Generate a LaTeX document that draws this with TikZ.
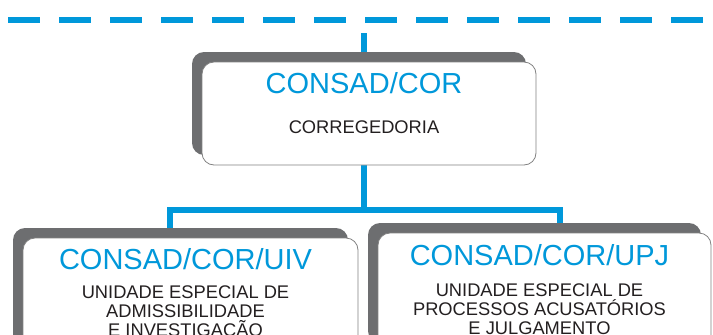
\documentclass[tikz,border=0pt]{standalone}
\usepackage{fontspec}
\setmainfont{Liberation Sans}
\usepackage{xcolor}
\usetikzlibrary{shadows,backgrounds}
\definecolor{corblue}{RGB}{0,152,218}
\definecolor{shadegray}{RGB}{109,110,112}
\definecolor{edgegray}{RGB}{130,130,130}
\definecolor{textgray}{RGB}{35,31,32}
\begin{document}
\begin{tikzpicture}[x=1pt, y=-1pt,
  unit/.style={draw=edgegray, line width=0.8pt, fill=white, rounded corners=12pt,
    copy shadow={shadow xshift=-10pt, shadow yshift=10pt, fill=shadegray, draw=none},
    inner sep=0pt, outer sep=0pt},
  title/.style={anchor=base, text=corblue, font=\fontsize{29}{29}\selectfont},
  desc/.style={anchor=base, text=textgray, align=center, font=\fontsize{18.3}{19}\selectfont},
  link/.style={draw=corblue, line width=6pt}]
\useasboundingbox (0,0) rectangle (713,335);
\clip (0,0) rectangle (713,335);

% boxes
\node[unit, minimum width=334pt, minimum height=103pt] (cor) at (369,113.5) {};
\node[unit, minimum width=335pt, minimum height=120pt] (uiv) at (190.5,298) {};
\node[unit, minimum width=333pt, minimum height=120pt] (upj) at (544.5,293) {};

% base is the last line
\node[title] (cortitle) at (364,93) {CONSAD/COR};
\node[desc] (cordesc) at (364,133) {CORREGEDORIA};
\node[title] (uivtitle) at (185.5,269) {CONSAD/COR/UIV};
\node[desc] (uivdesc) at (185.5,336) {UNIDADE ESPECIAL DE\\ADMISSIBILIDADE\\E INVESTIGAÇÃO};
\node[title] (upjtitle) at (539.5,265) {CONSAD/COR/UPJ};
\node[desc] (upjdesc) at (539.5,334) {UNIDADE ESPECIAL DE\\PROCESSOS ACUSATÓRIOS\\E JULGAMENTO};

% links
\begin{scope}[on background layer]
\coordinate (top) at (364,33);
\coordinate (legL) at (170,210);
\coordinate (legR) at (560,210);
\draw[link, dash pattern=on 32pt off 19pt] (8,20) -- (713,20);
\draw[link] (top) -- (top |- cor.north);
\draw[link] (top |- cor.south) -- (top |- legL);
\draw[link] (legL |- uiv.north) -- (legL) -- (legR) -- (legR |- upj.north);
\end{scope}
\end{tikzpicture}
\end{document}
